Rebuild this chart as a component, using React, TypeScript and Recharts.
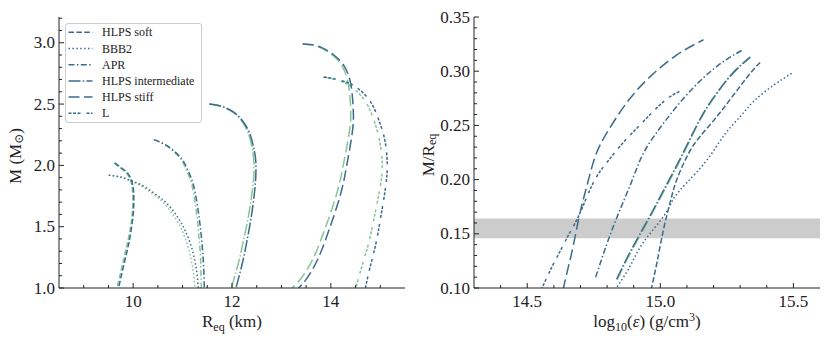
import React from 'react';
import { LineChart, Line, XAxis, YAxis, ReferenceArea, Legend } from 'recharts';

const BLUE = '#3b6b8c';
const GREEN = '#86c596';
const INK = '#222222';
const FONT = 'Liberation Serif, DejaVu Serif, serif';

// ---------- Left panel: M vs R_eq ----------
const softBlueR = [9.63, 9.76, 9.9, 9.98, 10.01, 10.01, 9.97, 9.91, 9.83, 9.75, 9.7];
const softBlueM = [2.02, 1.98, 1.93, 1.86, 1.78, 1.65, 1.5, 1.36, 1.22, 1.08, 0.99];
const softGreenR = [9.61, 9.74, 9.88, 9.96, 9.99, 9.99, 9.95, 9.88, 9.8, 9.72, 9.67];
const softGreenM = [2.02, 1.98, 1.93, 1.86, 1.78, 1.65, 1.5, 1.36, 1.22, 1.08, 0.99];

const bbbBlueR = [9.51, 9.75, 9.93, 10.17, 10.4, 10.6, 10.77, 10.93, 11.05, 11.16, 11.24, 11.29, 11.32, 11.33];
const bbbBlueM = [1.92, 1.905, 1.88, 1.84, 1.78, 1.72, 1.65, 1.56, 1.47, 1.36, 1.24, 1.12, 1.0, 0.98];
const bbbGreenR = [9.5, 9.73, 9.9, 10.13, 10.35, 10.55, 10.71, 10.87, 10.99, 11.09, 11.17, 11.22, 11.25, 11.26];
const bbbGreenM = [1.92, 1.905, 1.88, 1.84, 1.78, 1.72, 1.65, 1.56, 1.47, 1.36, 1.24, 1.12, 1.0, 0.98];

const aprBlueR = [10.42, 10.6, 10.76, 10.9, 11.02, 11.13, 11.22, 11.29, 11.34, 11.38, 11.41, 11.43, 11.44, 11.44];
const aprBlueM = [2.21, 2.18, 2.14, 2.09, 2.03, 1.94, 1.84, 1.7, 1.56, 1.42, 1.28, 1.14, 1.0, 0.98];
const aprGreenR = [10.42, 10.59, 10.74, 10.88, 11.0, 11.1, 11.19, 11.25, 11.3, 11.33, 11.36, 11.37, 11.38, 11.38];
const aprGreenM = [2.21, 2.18, 2.14, 2.09, 2.03, 1.94, 1.84, 1.7, 1.56, 1.42, 1.28, 1.14, 1.0, 0.98];

const intBlueR = [11.54, 11.8, 12.05, 12.22, 12.35, 12.43, 12.48, 12.48, 12.45, 12.39, 12.31, 12.22, 12.12, 12.08, 12.07];
const intBlueM = [2.5, 2.48, 2.43, 2.36, 2.27, 2.16, 2.04, 1.9, 1.76, 1.58, 1.4, 1.22, 1.06, 1.0, 0.98];
const intGreenR = [11.54, 11.79, 12.03, 12.2, 12.32, 12.4, 12.44, 12.44, 12.4, 12.33, 12.24, 12.14, 12.03, 11.99, 11.98];
const intGreenM = [2.5, 2.48, 2.43, 2.36, 2.27, 2.16, 2.04, 1.9, 1.76, 1.58, 1.4, 1.22, 1.06, 1.0, 0.98];

const stiffBlueR = [13.43, 13.76, 14.06, 14.27, 14.4, 14.45, 14.44, 14.33, 14.2, 13.96, 13.73, 13.5, 13.35, 13.33];
const stiffBlueM = [2.99, 2.97, 2.9, 2.81, 2.67, 2.48, 2.29, 2.02, 1.77, 1.47, 1.23, 1.07, 1.0, 0.98];
const stiffGreenR = [13.43, 13.74, 14.03, 14.23, 14.35, 14.4, 14.38, 14.26, 14.12, 13.87, 13.63, 13.38, 13.22, 13.2];
const stiffGreenM = [2.99, 2.97, 2.9, 2.81, 2.67, 2.48, 2.29, 2.02, 1.77, 1.47, 1.23, 1.07, 1.0, 0.98];

const lBlueR = [13.86, 14.13, 14.37, 14.57, 14.8, 14.97, 15.09, 15.14, 15.11, 15.01, 14.91, 14.8, 14.72, 14.7, 14.69];
const lBlueM = [2.72, 2.7, 2.67, 2.62, 2.52, 2.37, 2.21, 2.02, 1.83, 1.58, 1.36, 1.18, 1.04, 1.0, 0.98];
const lGreenR = [13.84, 14.08, 14.3, 14.48, 14.7, 14.87, 14.98, 15.04, 15.0, 14.88, 14.76, 14.63, 14.53, 14.5, 14.49];
const lGreenM = [2.72, 2.7, 2.67, 2.62, 2.52, 2.37, 2.21, 2.02, 1.83, 1.58, 1.36, 1.18, 1.04, 1.0, 0.98];

// ---------- Right panel: M/R_eq vs log10(eps) ----------
const stiffEps = [14.634, 14.655, 14.673, 14.698, 14.724, 14.755, 14.799, 14.874, 14.962, 15.062, 15.162];
const stiffC = [0.098, 0.12, 0.139, 0.169, 0.194, 0.221, 0.243, 0.271, 0.295, 0.315, 0.329];

const lEps = [14.552, 14.592, 14.63, 14.662, 14.698, 14.748, 14.8, 14.86, 14.93, 14.99, 15.04, 15.087];
const lC = [0.098, 0.119, 0.137, 0.152, 0.169, 0.197, 0.216, 0.234, 0.252, 0.267, 0.277, 0.283];

const aprEps = [14.757, 14.81, 14.855, 14.9, 14.94, 15.0, 15.06, 15.125, 15.19, 15.25, 15.312];
const aprC = [0.11, 0.148, 0.176, 0.203, 0.226, 0.248, 0.267, 0.285, 0.3, 0.311, 0.32];

const intEps = [14.836, 14.886, 14.949, 15.012, 15.074, 15.137, 15.187, 15.25, 15.3, 15.338];
const intC = [0.108, 0.133, 0.161, 0.19, 0.219, 0.25, 0.271, 0.292, 0.305, 0.313];
const intGreenEps = [14.838, 14.889, 14.952, 15.015, 15.077, 15.139, 15.189, 15.252, 15.302, 15.338];
const intGreenC = [0.108, 0.133, 0.161, 0.19, 0.219, 0.25, 0.271, 0.292, 0.305, 0.313];

const softEps = [14.965, 14.987, 15.012, 15.037, 15.062, 15.106, 15.15, 15.212, 15.275, 15.338, 15.375];
const softC = [0.098, 0.123, 0.154, 0.179, 0.2, 0.224, 0.24, 0.258, 0.278, 0.298, 0.308];

const bbbEps = [14.83, 14.886, 14.936, 15.012, 15.049, 15.099, 15.175, 15.243, 15.3, 15.35, 15.425, 15.494];
const bbbC = [0.098, 0.12, 0.142, 0.166, 0.182, 0.197, 0.218, 0.242, 0.258, 0.272, 0.287, 0.298];

const bandLow = 0.146;
const bandHigh = 0.164;

// ---------- Ticks ----------
const leftXMajor = [10, 12, 14];
const leftXTicks = [9, 9.5, 10, 10.5, 11, 11.5, 12, 12.5, 13, 13.5, 14, 14.5, 15];
const leftYMajor = [1.0, 1.5, 2.0, 2.5, 3.0];
const leftYTicks = [1.0, 1.1, 1.2, 1.3, 1.4, 1.5, 1.6, 1.7, 1.8, 1.9, 2.0, 2.1, 2.2, 2.3, 2.4, 2.5, 2.6, 2.7, 2.8, 2.9, 3.0, 3.1, 3.2];
const rightXMajor = [14.5, 15.0, 15.5];
const rightXTicks = [14.4, 14.5, 14.6, 14.7, 14.8, 14.9, 15.0, 15.1, 15.2, 15.3, 15.4, 15.5];
const rightYMajor = [0.1, 0.15, 0.2, 0.25, 0.3, 0.35];
const rightYTicks = [0.1, 0.11, 0.12, 0.13, 0.14, 0.15, 0.16, 0.17, 0.18, 0.19, 0.2, 0.21, 0.22, 0.23, 0.24, 0.25, 0.26, 0.27, 0.28, 0.29, 0.3, 0.31, 0.32, 0.33, 0.34, 0.35];

// ---------- Legend ----------
const legendNames = ['HLPS soft', 'BBB2', 'APR', 'HLPS intermediate', 'HLPS stiff', 'L'];
const DASH = {
  soft: '5.5 2.4',
  bbb: '1.5 2.4',
  apr: '6 2.4 1.5 2.4',
  int: '12 2.2 1.5 2.2',
  stiff: '11 4.5',
  l: '3 1.5 3 1.5 3 6',
};
const legendDashes = [DASH.soft, DASH.bbb, DASH.apr, DASH.int, DASH.stiff, DASH.l];

const zip = (xs: number[], ys: number[]) => xs.map((x, i) => ({ x, y: ys[i] }));

const isMajor = (v: number, majors: number[]) => majors.some((m) => Math.abs(m - v) < 1e-6);

const MAJ = 5;
const MIN = 3;
const TICK_FS = 17;

const bottomTick = (majors: number[], fmt: (v: number) => string) => (p: any) => {
  const { x, y, payload } = p;
  const mj = isMajor(payload.value, majors);
  return (
    <g>
      <line x1={x} x2={x} y1={y} y2={y - (mj ? MAJ : MIN)} stroke={INK} strokeWidth={1} />
      {mj && (
        <text x={x} y={y + 19} textAnchor="middle" fontSize={TICK_FS} fontFamily={FONT} fill={INK}>
          {fmt(payload.value)}
        </text>
      )}
    </g>
  );
};
const topTick = (majors: number[]) => (p: any) => {
  const { x, y, payload } = p;
  const mj = isMajor(payload.value, majors);
  return <line x1={x} x2={x} y1={y} y2={y + (mj ? MAJ : MIN)} stroke={INK} strokeWidth={1} />;
};
const leftTick = (majors: number[], fmt: (v: number) => string) => (p: any) => {
  const { x, y, payload } = p;
  const mj = isMajor(payload.value, majors);
  return (
    <g>
      <line x1={x} x2={x + (mj ? MAJ : MIN)} y1={y} y2={y} stroke={INK} strokeWidth={1} />
      {mj && (
        <text x={x - 4} y={y + 5.5} textAnchor="end" fontSize={TICK_FS} fontFamily={FONT} fill={INK}>
          {fmt(payload.value)}
        </text>
      )}
    </g>
  );
};
const rightTick = (majors: number[]) => (p: any) => {
  const { x, y, payload } = p;
  const mj = isMajor(payload.value, majors);
  return <line x1={x} x2={x - (mj ? MAJ : MIN)} y1={y} y2={y} stroke={INK} strokeWidth={1} />;
};

const LegendBox = () => (
  <div
    style={{
      width: 137,
      height: 100,
      boxSizing: 'border-box',
      border: '1px solid #cccccc',
      borderRadius: 3,
      background: 'rgba(255,255,255,0.85)',
    }}
  >
    <svg width={135} height={98} style={{ display: 'block' }}>
      {legendNames.map((n, i) => {
        const cy = 8.3 + 16.2 * i;
        return (
          <g key={n}>
            <line x1={2.5} x2={26.5} y1={cy} y2={cy} stroke={BLUE} strokeWidth={1.5} strokeDasharray={legendDashes[i]} />
            <text x={36} y={cy + 4} fontSize={12} fontFamily={FONT} fill={INK}>
              {n}
            </text>
          </g>
        );
      })}
    </svg>
  </div>
);

const lineProps = {
  dataKey: 'y',
  type: 'natural' as const,
  dot: false,
  activeDot: false,
  isAnimationActive: false,
  strokeWidth: 1.5,
  legendType: 'none' as const,
};

const leftSeries = [
  { name: 'HLPS soft', dash: DASH.soft, bR: softBlueR, bM: softBlueM, gR: softGreenR, gM: softGreenM },
  { name: 'BBB2', dash: DASH.bbb, bR: bbbBlueR, bM: bbbBlueM, gR: bbbGreenR, gM: bbbGreenM },
  { name: 'APR', dash: DASH.apr, bR: aprBlueR, bM: aprBlueM, gR: aprGreenR, gM: aprGreenM },
  { name: 'HLPS intermediate', dash: DASH.int, bR: intBlueR, bM: intBlueM, gR: intGreenR, gM: intGreenM },
  { name: 'HLPS stiff', dash: DASH.stiff, bR: stiffBlueR, bM: stiffBlueM, gR: stiffGreenR, gM: stiffGreenM },
  { name: 'L', dash: DASH.l, bR: lBlueR, bM: lBlueM, gR: lGreenR, gM: lGreenM },
];

const rightSeries = [
  { name: 'HLPS stiff', dash: DASH.stiff, xs: stiffEps, ys: stiffC, color: BLUE },
  { name: 'L', dash: DASH.l, xs: lEps, ys: lC, color: BLUE },
  { name: 'APR', dash: DASH.apr, xs: aprEps, ys: aprC, color: BLUE },
  { name: 'HLPS intermediate green', dash: DASH.int, xs: intGreenEps, ys: intGreenC, color: GREEN },
  { name: 'HLPS intermediate', dash: DASH.int, xs: intEps, ys: intC, color: BLUE },
  { name: 'HLPS soft', dash: DASH.soft, xs: softEps, ys: softC, color: BLUE },
  { name: 'BBB2', dash: DASH.bbb, xs: bbbEps, ys: bbbC, color: BLUE },
];

const leftXLabel = (p: any) => {
  const vb = p.viewBox;
  const cx = vb.x + vb.width / 2;
  return (
    <text x={cx} y={vb.y + 39} textAnchor="middle" fontSize={17} fontFamily={FONT} fill={INK}>
      <tspan>R</tspan>
      <tspan dy={4} fontSize={12}>eq</tspan>
      <tspan dy={-4}> (km)</tspan>
    </text>
  );
};
const leftYLabel = (p: any) => {
  const vb = p.viewBox;
  const x = vb.x + 15;
  const y = 156;
  return (
    <text x={x} y={y} transform={`rotate(-90, ${x}, ${y})`} textAnchor="middle" dominantBaseline="central" fontSize={17} fontFamily={FONT} fill={INK}>
      <tspan>M (M</tspan>
      <tspan dy={4} fontSize={12}>⊙</tspan>
      <tspan dy={-4}>)</tspan>
    </text>
  );
};
const rightXLabel = (p: any) => {
  const vb = p.viewBox;
  const cx = vb.x + vb.width / 2;
  return (
    <text x={cx} y={vb.y + 39} textAnchor="middle" fontSize={17} fontFamily={FONT} fill={INK}>
      <tspan>log</tspan>
      <tspan dy={4} fontSize={12}>10</tspan>
      <tspan dy={-4}>(</tspan>
      <tspan fontStyle="italic">ε</tspan>
      <tspan>) (g/cm</tspan>
      <tspan dy={-6} fontSize={12}>3</tspan>
      <tspan dy={6}>)</tspan>
    </text>
  );
};
const rightYLabel = (p: any) => {
  const vb = p.viewBox;
  const x = vb.x + 13;
  const y = 155;
  return (
    <text x={x} y={y} transform={`rotate(-90, ${x}, ${y})`} textAnchor="middle" dominantBaseline="central" fontSize={17} fontFamily={FONT} fill={INK}>
      <tspan>M/R</tspan>
      <tspan dy={4} fontSize={12}>eq</tspan>
    </text>
  );
};

const MARGIN = { top: 17, right: 10, bottom: 28, left: 0 };
const axisLine = { stroke: INK, strokeWidth: 1 };

export default function App() {
  return (
    <div style={{ position: 'absolute', left: 0, top: 0, width: 830, height: 346, background: '#ffffff' }}>
      <div style={{ position: 'absolute', left: 0, top: 0 }}>
        <LineChart width={415} height={346} margin={MARGIN}>
          <XAxis
            dataKey="x"
            type="number"
            domain={[8.5, 15.5]}
            allowDataOverflow
            ticks={leftXTicks}
            interval={0}
            tick={bottomTick(leftXMajor, (v) => String(v))}
            tickLine={false}
            tickSize={0}
            tickMargin={0}
            height={30}
            axisLine={axisLine}
            label={leftXLabel}
          />
          <XAxis
            xAxisId="top"
            orientation="top"
            type="number"
            domain={[8.5, 15.5]}
            allowDataOverflow
            ticks={leftXTicks}
            interval={0}
            tick={topTick(leftXMajor)}
            tickLine={false}
            tickSize={0}
            tickMargin={0}
            height={0}
            axisLine={axisLine}
          />
          <YAxis
            type="number"
            domain={[1.0, 3.21]}
            allowDataOverflow
            ticks={leftYTicks}
            interval={0}
            tick={leftTick(leftYMajor, (v) => v.toFixed(1))}
            tickLine={false}
            tickSize={0}
            tickMargin={0}
            width={59}
            axisLine={axisLine}
            label={leftYLabel}
          />
          <YAxis
            yAxisId="right"
            orientation="right"
            type="number"
            domain={[1.0, 3.21]}
            allowDataOverflow
            ticks={leftYTicks}
            interval={0}
            tick={rightTick(leftYMajor)}
            tickLine={false}
            tickSize={0}
            tickMargin={0}
            width={0}
            axisLine={axisLine}
          />
          {leftSeries.map((s) => (
            <Line key={s.name + '-g'} {...lineProps} data={zip(s.gR, s.gM)} stroke={GREEN} strokeDasharray={s.dash} name={s.name + ' static'} />
          ))}
          {leftSeries.map((s) => (
            <Line key={s.name + '-b'} {...lineProps} data={zip(s.bR, s.bM)} stroke={BLUE} strokeDasharray={s.dash} name={s.name} />
          ))}
          <Legend
            layout="vertical"
            align="center"
            verticalAlign="middle"
            wrapperStyle={{ position: 'absolute', left: 65, top: 23, width: 137, height: 100 }}
            content={() => <LegendBox />}
          />
        </LineChart>
      </div>
      <div style={{ position: 'absolute', left: 415, top: 0 }}>
        <LineChart width={415} height={346} margin={MARGIN}>
          <ReferenceArea y1={bandLow} y2={bandHigh} fill="#cccccc" fillOpacity={1} stroke="none" ifOverflow="hidden" />
          <XAxis
            dataKey="x"
            type="number"
            domain={[14.3, 15.6]}
            allowDataOverflow
            ticks={rightXTicks}
            interval={0}
            tick={bottomTick(rightXMajor, (v) => v.toFixed(1))}
            tickLine={false}
            tickSize={0}
            tickMargin={0}
            height={30}
            axisLine={axisLine}
            label={rightXLabel}
          />
          <XAxis
            xAxisId="top"
            orientation="top"
            type="number"
            domain={[14.3, 15.6]}
            allowDataOverflow
            ticks={rightXTicks}
            interval={0}
            tick={topTick(rightXMajor)}
            tickLine={false}
            tickSize={0}
            tickMargin={0}
            height={0}
            axisLine={axisLine}
          />
          <YAxis
            type="number"
            domain={[0.1, 0.35]}
            allowDataOverflow
            ticks={rightYTicks}
            interval={0}
            tick={leftTick(rightYMajor, (v) => v.toFixed(2))}
            tickLine={false}
            tickSize={0}
            tickMargin={0}
            width={59}
            axisLine={axisLine}
            label={rightYLabel}
          />
          <YAxis
            yAxisId="right"
            orientation="right"
            type="number"
            domain={[0.1, 0.35]}
            allowDataOverflow
            ticks={rightYTicks}
            interval={0}
            tick={rightTick(rightYMajor)}
            tickLine={false}
            tickSize={0}
            tickMargin={0}
            width={0}
            axisLine={axisLine}
          />
          {rightSeries.map((s) => (
            <Line key={s.name} {...lineProps} data={zip(s.xs, s.ys)} stroke={s.color} strokeDasharray={s.dash} name={s.name} />
          ))}
        </LineChart>
      </div>
    </div>
  );
}
